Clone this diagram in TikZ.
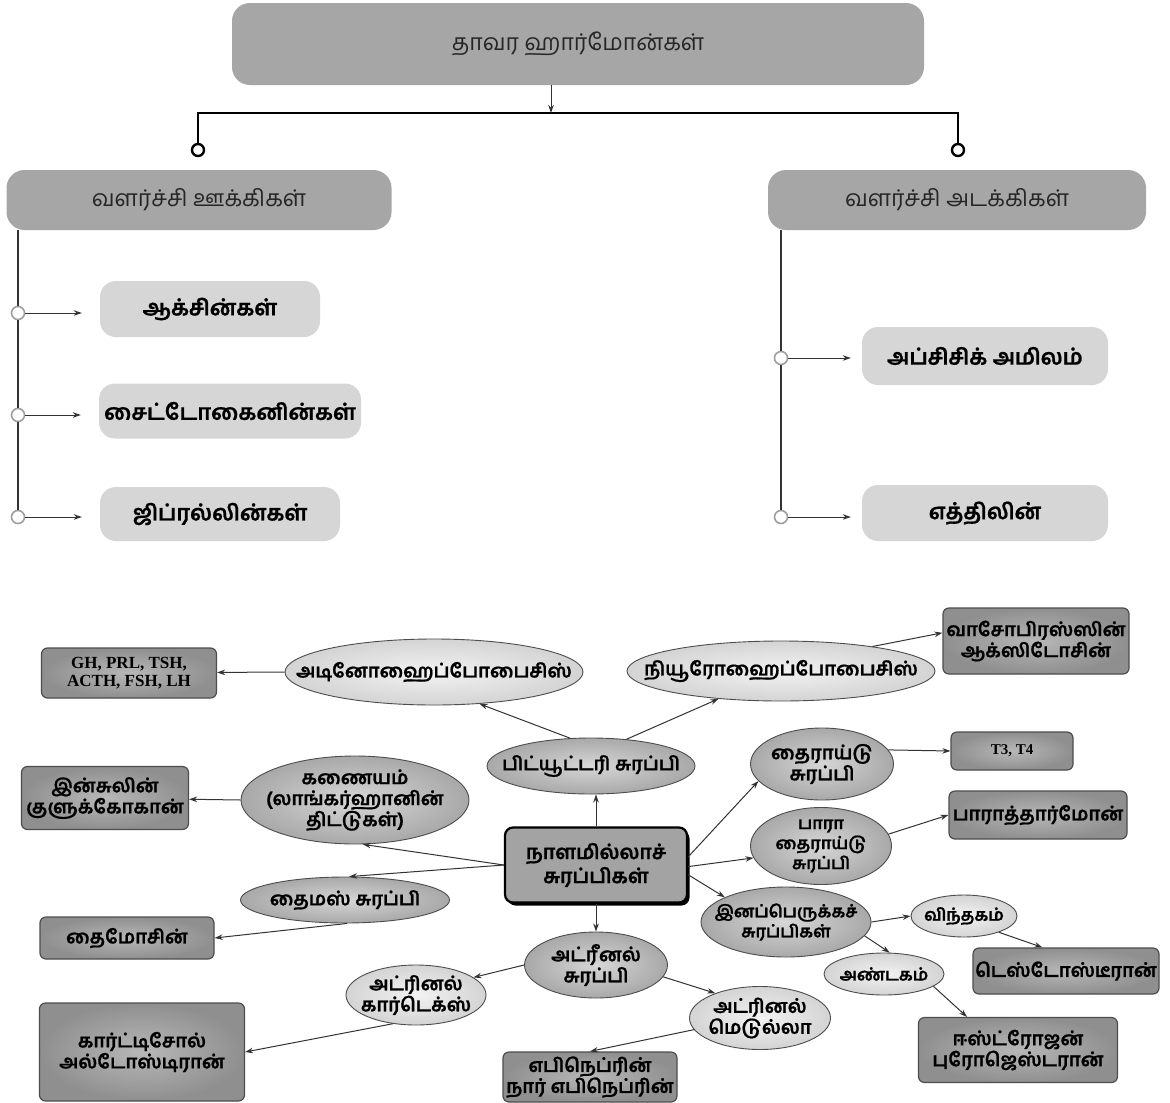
\documentclass[tikz,border=0pt]{standalone}
\usepackage{fontspec}
\usetikzlibrary{shapes.geometric,arrows.meta,shadows}
\newfontfamily\tamil[Script=Tamil, BoldFeatures={FakeBold=0.8}]{Hind Madurai}
\newfontfamily\romanb{Liberation Serif}

\definecolor{rootgray}{HTML}{A6A6A6}
\definecolor{leafgray}{HTML}{D6D6D6}
\definecolor{boxedge}{HTML}{4D4D4D}
\definecolor{lnk}{HTML}{333333}

\tikzset{
  headbox/.style={rounded corners=18pt, fill=rootgray, inner sep=0pt,
    font=\tamil\fontsize{23}{26}\selectfont, text=black!85},
  leafbox/.style={rounded corners=16pt, fill=leafgray, inner sep=0pt,
    font=\tamil\bfseries\fontsize{22}{26}\selectfont},
  hub/.style={circle, draw=black, line width=2.4pt, fill=white,
    minimum size=12pt, inner sep=0pt},
  tap/.style={circle, draw=gray!75, line width=1.6pt, fill=white,
    minimum size=13pt, inner sep=0pt},
  arr/.style={-{Stealth[length=8pt,width=5.5pt]}, line width=1pt, draw=lnk},
  spine/.style={line width=1.5pt, draw=lnk},
  gbox/.style={rectangle, rounded corners=6pt, draw=boxedge, line width=1.2pt,
    inner sep=0pt, align=center, shading=radial,
    inner color=white!72!black, outer color=white!56!black,
    font=\tamil\bfseries\fontsize{19}{21}\selectfont},
  etxt/.style={align=center, inner sep=0pt,
    font=\tamil\bfseries\fontsize{19}{21}\selectfont},
  etxtsmall/.style={etxt, font=\tamil\bfseries\fontsize{17}{20}\selectfont},
  ell/.style={ellipse, draw=boxedge, line width=0.9pt, inner sep=0pt, shading=radial},
  elll/.style={ell, inner color=white!95!black, outer color=white!83!black},
  ellm/.style={ell, inner color=white!84!black, outer color=white!66!black},
  hubbox/.style={rectangle, rounded corners=8pt, draw=black, line width=2.2pt,
    fill=white!64!black, inner sep=0pt, align=center,
    drop shadow={shadow xshift=2.5pt, shadow yshift=-3pt, fill=black, opacity=1},
    font=\tamil\bfseries\fontsize{20}{24}\selectfont},
  latin/.style={font=\romanb\bfseries\fontsize{17}{18}\selectfont},
}

\begin{document}
\begin{tikzpicture}[x=1pt, y=-1pt]
\useasboundingbox[fill=white] (0,0) rectangle (1170,1103);

% ---------- plant hormones tree ----------
\node[headbox, minimum width=692pt, minimum height=82pt] (root) at (578,44) {தாவர ஹார்மோன்கள்};
\node[headbox, minimum width=385pt, minimum height=60pt] (gL) at (199,200) {வளர்ச்சி ஊக்கிகள்};
\node[headbox, minimum width=378pt, minimum height=60pt] (gR) at (957,200) {வளர்ச்சி அடக்கிகள்};

\coordinate (jn) at (551,113);
\coordinate (busL) at (198,113);
\coordinate (busR) at (958,113);
\node[hub] (hL) at (198,150) {};
\node[hub] (hR) at (958,150) {};
\draw[line width=2pt] (hL) -- (busL) -- (busR) -- (hR);
\draw[arr] (root.south -| jn) -- (jn);

\node[leafbox, minimum width=220pt, minimum height=56pt] (aux) at (210,309) {ஆக்சின்கள்};
\node[leafbox, minimum width=262pt, minimum height=55pt] (cyto) at (230,411) {சைட்டோகைனின்கள்};
\node[leafbox, minimum width=240pt, minimum height=54pt] (gib) at (220,514) {ஜிப்ரல்லின்கள்};

\node[tap] (tL1) at (18,313) {};
\node[tap] (tL2) at (18,415) {};
\node[tap] (tL3) at (18,517) {};
\draw[spine] (gL.south -| tL1) -- (tL1) -- (tL2) -- (tL3);
\draw[arr, shorten >=18pt] (tL1) -- (aux.west |- tL1);
\draw[arr, shorten >=18pt] (tL2) -- (cyto.west |- tL2);
\draw[arr, shorten >=18pt] (tL3) -- (gib.west |- tL3);

\node[leafbox, minimum width=246pt, minimum height=58pt] (abs) at (985,356) {அப்சிசிக் அமிலம்};
\node[leafbox, minimum width=246pt, minimum height=56pt] (eth) at (985,513) {எத்திலின்};

\node[tap] (tR1) at (781,358) {};
\node[tap] (tR2) at (781,517) {};
\draw[spine] (gR.south -| tR1) -- (tR1) -- (tR2);
\draw[arr, shorten >=11pt] (tR1) -- (abs.west |- tR1);
\draw[arr, shorten >=11pt] (tR2) -- (eth.west |- tR2);

% ---------- endocrine glands map ----------
\node[hubbox, minimum width=182pt, minimum height=75pt] (central) at (596,865) {நாளமில்லாச்\\சுரப்பிகள்};

\node[ellm, minimum width=208pt, minimum height=56pt, label={[etxt]center:பிட்யூட்டரி சுரப்பி}] (pit) at (591,766) {};
\node[elll, minimum width=298pt, minimum height=66pt, label={[etxt]center:அடினோஹைப்போபைசிஸ்}] (adeno) at (434,672) {};
\node[elll, minimum width=308pt, minimum height=60pt, label={[etxt]center:நியூரோஹைப்போபைசிஸ்}] (neuro) at (781,671) {};
\node[gbox, minimum width=175pt, minimum height=50pt, latin] (gh) at (129,673) {GH, PRL, TSH,\\ACTH, FSH, LH};
\node[gbox, minimum width=186pt, minimum height=66pt] (vaso) at (1036,641) {வாசோபிரஸ்ஸின்\\ஆக்ஸிடோசின்};

\node[ellm, minimum width=228pt, minimum height=88pt, label={[etxt]center:கணையம்\\(லாங்கர்ஹானின்\\திட்டுகள்)}] (kanai) at (355,800) {};
\node[gbox, minimum width=167pt, minimum height=63pt] (ins) at (105,798) {இன்சுலின்\\குளுக்கோகான்};

\node[ellm, minimum width=209pt, minimum height=46pt, label={[etxt]center:தைமஸ் சுரப்பி}] (thymus) at (345,900) {};
\node[gbox, minimum width=174pt, minimum height=42pt] (thymo) at (127,938) {தைமோசின்};

\node[ellm, minimum width=143pt, minimum height=72pt, label={[etxt]center:தைராய்டு\\சுரப்பி}] (thyroid) at (822,764) {};
\node[gbox, minimum width=122pt, minimum height=38pt, latin, font=\romanb\bfseries\fontsize{15}{16}\selectfont] (t3) at (1012,751) {T3, T4};

\node[ellm, minimum width=141pt, minimum height=77pt, label={[etxtsmall]center:பாரா\\தைராய்டு\\சுரப்பி}] (para) at (821,846) {};
\node[gbox, minimum width=178pt, minimum height=48pt] (parath) at (1038,815) {பாராத்தார்மோன்};

\node[ellm, minimum width=170pt, minimum height=70pt, label={[etxtsmall]center:இனப்பெருக்கச்\\சுரப்பிகள்}] (inap) at (786,922) {};
\node[elll, minimum width=106pt, minimum height=42pt, label={[etxtsmall]center:விந்தகம்}] (vin) at (964,916) {};
\node[gbox, minimum width=186pt, minimum height=46pt] (testo) at (1066,971) {டெஸ்டோஸ்டீரான்};
\node[elll, minimum width=120pt, minimum height=42pt, label={[etxtsmall]center:அண்டகம்}] (andam) at (884,974) {};
\node[gbox, minimum width=199pt, minimum height=65pt] (estro) at (1018,1050) {ஈஸ்ட்ரோஜன்\\புரோஜெஸ்டரான்};

\node[ellm, minimum width=143pt, minimum height=66pt, label={[etxt]center:அட்ரீனல்\\சுரப்பி}] (adrenal) at (596,965) {};
\node[elll, minimum width=140pt, minimum height=60pt, label={[etxt]center:அட்ரினல்\\கார்டெக்ஸ்}] (cortex) at (416,995) {};
\node[gbox, minimum width=205pt, minimum height=98pt] (cortisol) at (142,1052) {கார்ட்டிசோல்\\அல்டோஸ்டிரான்};
\node[elll, minimum width=141pt, minimum height=63pt, label={[etxt]center:அட்ரினல்\\மெடுல்லா}] (medulla) at (760,1018) {};
\node[gbox, minimum width=174pt, minimum height=50pt] (epi) at (590,1077) {எபிநெப்ரின்\\நார் எபிநெப்ரின்};

% connectors
\draw[arr] (central.north) -- (pit.south -| central.north);
\draw[arr] (pit.127) -- (adeno.325);
\draw[arr] (pit.37) -- (neuro.204);
\draw[arr] (adeno.west) -- (gh);
\draw[arr] (neuro.15) -- (vaso.175);
\draw[arr] (central.west) -- (kanai.280);
\draw[arr] (kanai.west) -- (ins);
\draw[arr] (central.west) -- (thymus.80);
\draw[arr] (thymus.275) -- (thymo.east);
\draw[arr] (central.south) -- (adrenal.north);
\draw[arr] (adrenal.west) -- (cortex.17);
\draw[arr] (cortex.231) -- (cortisol.east);
\draw[arr] (adrenal.-10) -- (medulla.151);
\draw[arr] (medulla.190) -- (epi.north);
\draw[arr] (central.5) -- (thyroid.195);
\draw[arr] (thyroid.12) -- (t3.west);
\draw[arr] (central.-1) -- (para.190);
\draw[arr] (para.10) -- (parath.west);
\draw[arr] (central.-6) -- (inap.158);
\draw[arr] (inap.east) -- (vin.west);
\draw[arr] (vin.-25) -- (testo.135);
\draw[arr] (inap.350) -- (andam.75);
\draw[arr] (andam.346) -- (estro.147);
\end{tikzpicture}
\end{document}
